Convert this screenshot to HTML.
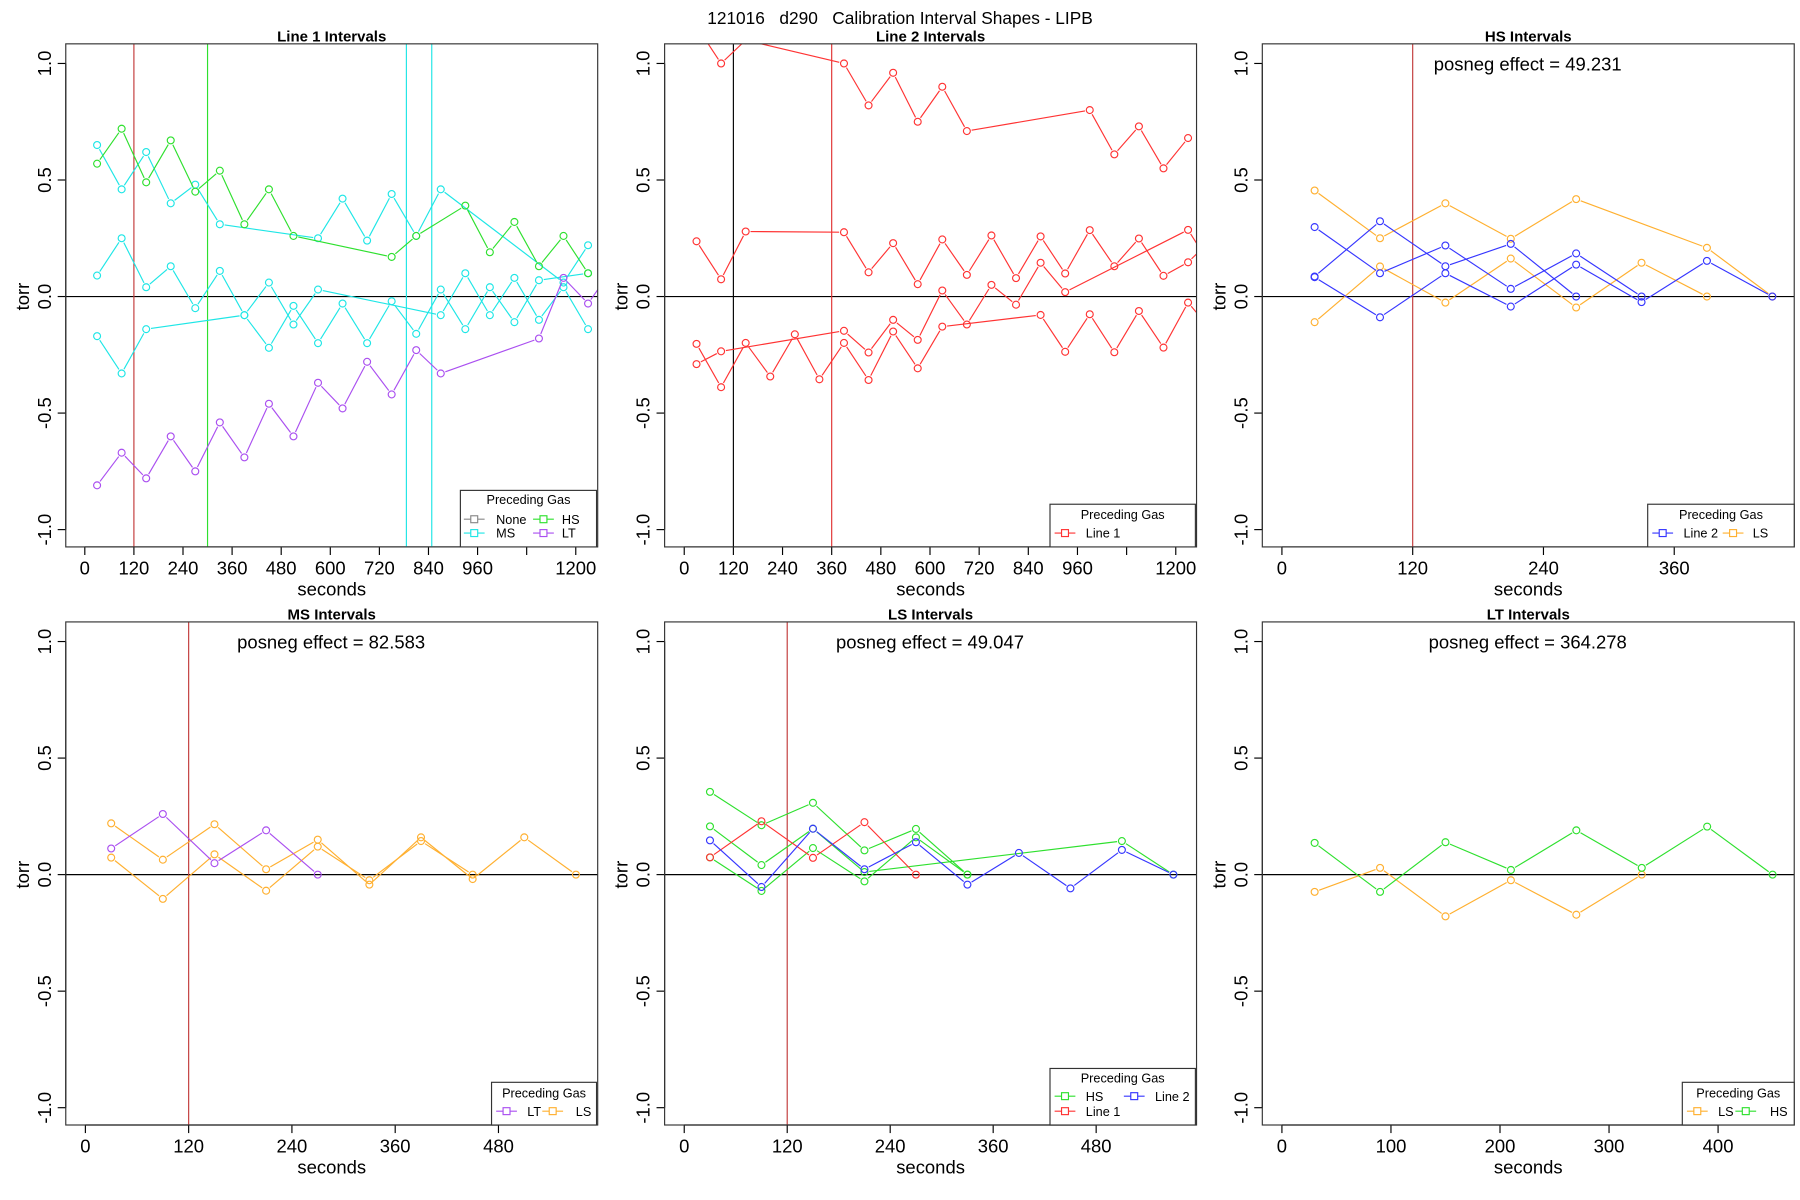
<!DOCTYPE html>
<html><head><meta charset="utf-8"><title>Calibration Interval Shapes</title>
<style>
html,body{margin:0;padding:0;background:#fff;}
svg{display:block;font-family:"Liberation Sans",Arial,sans-serif;}
</style></head>
<body>
<svg id="chart" xmlns="http://www.w3.org/2000/svg" width="1800" height="1200" viewBox="0 0 1560 1040">
<rect x="0" y="0" width="1560" height="1040" fill="#fff"/>
<text x="780" y="21" font-size="15" text-anchor="middle" fill="#000" xml:space="preserve" style="white-space:pre">121016   d290   Calibration Interval Shapes - LIPB</text>
</svg>
<script>
// ---------- data (times in seconds, values in torr) ----------
// Panel 1: Line 1 Intervals
const p1GreenT = [30,90,150,210,270,330,390,450,510,750,810,930,990,1050,1110,1170,1230];
const p1GreenV = [0.57,0.72,0.49,0.67,0.45,0.54,0.31,0.46,0.26,0.17,0.26,0.39,0.19,0.32,0.13,0.26,0.10];
const p1Cyan1T = [30,90,150,210,270,330,570,630,690,750,810,870,1170,1230];
const p1Cyan1V = [0.65,0.46,0.62,0.40,0.48,0.31,0.25,0.42,0.24,0.44,0.26,0.46,0.06,0.22];
const p1Cyan2T = [30,90,150,210,270,330,390,450,510,570,870,930,990,1050,1110,1170,1230];
const p1Cyan2V = [0.09,0.25,0.04,0.13,-0.05,0.11,-0.08,0.06,-0.12,0.03,-0.08,0.10,-0.08,0.08,-0.10,0.04,-0.14];
const p1Cyan3T = [30,90,150,390,450,510,570,630,690,750,810,870,930,990,1050,1110,1230];
const p1Cyan3V = [-0.17,-0.33,-0.14,-0.08,-0.22,-0.04,-0.20,-0.03,-0.20,-0.02,-0.16,0.03,-0.14,0.04,-0.11,0.07,0.10];
const p1PurpleT = [30,90,150,210,270,330,390,450,510,570,630,690,750,810,870,1110,1170,1230,1290];
const p1PurpleV = [-0.81,-0.67,-0.78,-0.60,-0.75,-0.54,-0.69,-0.46,-0.60,-0.37,-0.48,-0.28,-0.42,-0.23,-0.33,-0.18,0.08,-0.03,0.12];
const p1Vlines = [120,300,786,848];
// Panel 2: Line 2 Intervals
const p2Red1T = [30,90,150,390,450,510,570,630,690,990,1050,1110,1170,1230];
const p2Red1V = [1.16,1.0,1.10,1.0,0.82,0.96,0.75,0.90,0.71,0.80,0.61,0.73,0.55,0.68];
const p2Red2T = [30,90,150,390,450,510,570,630,690,750,810,870,930,990,1050,1110,1170,1230,1290];
const p2Red2V = [0.237,0.074,0.279,0.276,0.104,0.229,0.053,0.245,0.093,0.262,0.079,0.258,0.099,0.285,0.130,0.249,0.089,0.147,0.25];
const p2Red3T = [30,90,390,450,510,570,630,690,750,810,870,930,1230,1290];
const p2Red3V = [-0.29,-0.235,-0.147,-0.24,-0.10,-0.186,0.026,-0.12,0.05,-0.035,0.145,0.019,0.286,0.12];
const p2Red4T = [30,90,150,210,270,330,390,450,510,570,630,870,930,990,1050,1110,1170,1230,1290];
const p2Red4V = [-0.203,-0.389,-0.199,-0.343,-0.162,-0.355,-0.199,-0.358,-0.150,-0.308,-0.129,-0.079,-0.237,-0.076,-0.239,-0.062,-0.219,-0.026,-0.15];
const p2Vlines = [120,360];
// Panel 3: HS Intervals
const p3Blue1T = [30,90,150,210,270,330];
const p3Blue1V = [0.298,0.10,0.219,0.033,0.185,0.0];
const p3Blue2T = [30,90,150,210,270];
const p3Blue2V = [0.086,0.323,0.13,0.226,0.0];
const p3Blue3T = [30,90,150,210,270,330,390,450];
const p3Blue3V = [0.083,-0.089,0.10,-0.043,0.137,-0.024,0.153,0.0];
const p3Orange1T = [30,90,150,210,270,390,450];
const p3Orange1V = [0.455,0.25,0.40,0.248,0.418,0.209,0.0];
const p3Orange2T = [30,90,150,210,270,330,390];
const p3Orange2V = [-0.11,0.129,-0.026,0.163,-0.047,0.145,0.0];
// Panel 4: MS Intervals
const p4PurpleT = [30,90,150,210,270];
const p4PurpleV = [0.112,0.26,0.049,0.19,0.0];
const p4Orange1T = [30,90,150,210,270,330,390,450,510,570];
const p4Orange1V = [0.22,0.064,0.216,0.023,0.15,-0.043,0.16,-0.019,0.16,0.0];
const p4Orange2T = [30,90,150,210,270,330,390,450];
const p4Orange2V = [0.073,-0.104,0.087,-0.069,0.12,-0.024,0.144,0.0];
// Panel 5: LS Intervals
const p5Green1T = [30,90,150,210,270,330];
const p5Green1V = [0.355,0.212,0.308,0.104,0.196,0.0];
const p5Green2T = [30,90,150,210,510,570];
const p5Green2V = [0.207,0.041,0.197,0.011,0.144,0.0];
const p5Green3T = [30,90,150,210,270,330];
const p5Green3V = [0.074,-0.07,0.114,-0.029,0.16,0.0];
const p5RedT = [30,90,150,210,270];
const p5RedV = [0.074,0.229,0.072,0.225,0.0];
const p5BlueT = [30,90,150,210,270,330,390,450,510,570];
const p5BlueV = [0.147,-0.053,0.197,0.023,0.139,-0.043,0.093,-0.059,0.106,0.0];
// Panel 6: LT Intervals
const p6GreenT = [30,90,150,210,270,330,390,450];
const p6GreenV = [0.136,-0.074,0.139,0.02,0.19,0.029,0.206,0.0];
const p6OrangeT = [30,90,150,210,270,330];
const p6OrangeV = [-0.074,0.029,-0.179,-0.024,-0.172,0.0];
// ticks
const ticksLong = [0,120,240,360,480,600,720,840,960,1080,1200];
const ticksLongLabels = ["0","120","240","360","480","600","720","840","960","","1200"];
const ticks120 = [0,120,240,360];
const ticks120Labels = ["0","120","240","360"];
const ticks480 = [0,120,240,360,480];
const ticks480Labels = ["0","120","240","360","480"];
const ticks100 = [0,100,200,300,400];
const ticks100Labels = ["0","100","200","300","400"];
const yTicks = [1.0,0.5,0.0,-0.5,-1.0];
const yTickLabels = ["1.0","0.5","0.0","-0.5","-1.0"];

// ---------- colours ----------
const C = {cyan:"#1ee6e6",green:"#2ee02e",purple:"#aa4ff0",red:"#ff3333",orange:"#ffb030",blue:"#3636ff",gray:"#888888"};

const svg = document.getElementById('chart');
const NS = "http://www.w3.org/2000/svg";
function mk(tag, attrs, parent){
  const e = document.createElementNS(NS, tag);
  for (const k in attrs) e.setAttribute(k, attrs[k]);
  (parent||svg).appendChild(e);
  return e;
}

const panels = [
  {id:"p1",title:"Line 1 Intervals",bx:57,by:38,x0:73.5,xs:(499-73.5)/1200,ticks:ticksLong,labels:ticksLongLabels},
  {id:"p2",title:"Line 2 Intervals",bx:576,by:38,x0:593,xs:(1019-593)/1200,ticks:ticksLong,labels:ticksLongLabels},
  {id:"p3",title:"HS Intervals",bx:1094,by:38,x0:1111,xs:(1451-1111)/360,ticks:ticks120,labels:ticks120Labels},
  {id:"p4",title:"MS Intervals",bx:57,by:539,x0:74,xs:(432-74)/480,ticks:ticks480,labels:ticks480Labels},
  {id:"p5",title:"LS Intervals",bx:576,by:539,x0:593,xs:(950-593)/480,ticks:ticks480,labels:ticks480Labels},
  {id:"p6",title:"LT Intervals",bx:1094,by:539,x0:1111,xs:(1489-1111)/400,ticks:ticks100,labels:ticks100Labels}
];
const BW = 461, BH = 436;
function xS(p,t){ return p.x0 + t*p.xs; }
function yS(p,v){ return (p.by + 219) - v*202; }

const defs = mk('defs',{});
panels.forEach(p=>{
  const cp = mk('clipPath',{id:'clip-'+p.id},defs);
  mk('rect',{x:p.bx,y:p.by,width:BW,height:BH},cp);
});

function drawPanel(p){
  const g = mk('g',{});
  
  
  const t = mk('text',{x:p.bx+BW/2,y:p.by-2,'font-size':13,'font-weight':'bold','text-anchor':'middle'},g);
  
  
  t.textContent = p.title;
  const xa = mk('g',{},g);
  
  
  const by2 = p.by+BH;
  mk('line',{x1:xS(p,p.ticks[0]),x2:xS(p,p.ticks[p.ticks.length-1]),y1:by2,y2:by2,stroke:'#000','stroke-width':1},xa);
  p.ticks.forEach((tv,i)=>{
    const x = xS(p,tv);
    mk('line',{x1:x,x2:x,y1:by2,y2:by2+7,stroke:'#000','stroke-width':1},xa);
    const lt = mk('text',{x:x,y:by2+24,'font-size':16,'text-anchor':'middle'},xa);
    
    
    lt.textContent = p.labels[i];
  });
  const xl = mk('text',{x:p.bx+BW/2,y:by2+42,'font-size':16,'text-anchor':'middle'},g);
  
  
  xl.textContent = 'seconds';
  const ya = mk('g',{},g);
  
  
  mk('line',{x1:p.bx,x2:p.bx,y1:yS(p,1),y2:yS(p,-1),stroke:'#000','stroke-width':1},ya);
  yTicks.forEach((v,i)=>{
    const y = yS(p,v);
    mk('line',{x1:p.bx-7,x2:p.bx,y1:y,y2:y,stroke:'#000','stroke-width':1},ya);
    const lx = p.bx-13;
    const lt = mk('text',{x:lx,y:y,'font-size':16,'text-anchor':'middle',transform:`rotate(-90 ${lx} ${y})`},ya);
    
    
    lt.textContent = yTickLabels[i];
  });
  const yx = p.bx-32, yy = p.by+219;
  const yl = mk('text',{x:yx,y:yy,'font-size':16,'text-anchor':'middle',transform:`rotate(-90 ${yx} ${yy})`},g);
  
  
  yl.textContent = 'torr';
  const z = mk('line',{x1:p.bx,x2:p.bx+BW,y1:yS(p,0),y2:yS(p,0),stroke:'#000','stroke-width':1},g);
  
  
  return g;
}

function vline(p,t,color,name){
  const l = mk('line',{x1:xS(p,t),x2:xS(p,t),y1:p.by,y2:p.by+BH,stroke:color,'stroke-width':1,'clip-path':`url(#clip-${p.id})`});
  
  
}

function series(p,T,V,color,name){
  const g = mk('g',{'clip-path':`url(#clip-${p.id})`});
  
  
  const r = 3, gap = 4.2;
  for (let i=0;i<T.length-1;i++){
    const x1=xS(p,T[i]),y1=yS(p,V[i]),x2=xS(p,T[i+1]),y2=yS(p,V[i+1]);
    const dx=x2-x1, dy=y2-y1, L=Math.hypot(dx,dy);
    if (L<=2*gap) continue;
    const ux=dx/L, uy=dy/L;
    mk('line',{x1:x1+ux*gap,y1:y1+uy*gap,x2:x2-ux*gap,y2:y2-uy*gap,stroke:color,'stroke-width':1},g);
  }
  for (let i=0;i<T.length;i++){
    const c = mk('circle',{cx:xS(p,T[i]),cy:yS(p,V[i]),r:r,fill:'none',stroke:color,'stroke-width':1},g);
    
    
  }
}

function box(p){
  const b = mk('rect',{x:p.bx,y:p.by,width:BW,height:BH,fill:'none',stroke:'#333','stroke-width':1});
  
  
}

function legend(x,y,w,h,titleY,entries,name){
  const g = mk('g',{});
  
  
  mk('rect',{x:x,y:y,width:w,height:h,fill:'#fff',stroke:'#333','stroke-width':1},g);
  const t = mk('text',{x:x+w/2,y:titleY,'font-size':11,'text-anchor':'middle'},g);
  
  
  t.textContent = 'Preceding Gas';
  entries.forEach(e=>{
    const eg = mk('g',{},g);
    
    
    mk('line',{x1:e.x,x2:e.x+18,y1:e.y,y2:e.y,stroke:e.c,'stroke-width':1},eg);
    mk('rect',{x:e.x+6,y:e.y-3,width:6,height:6,fill:'#fff',stroke:e.c,'stroke-width':1},eg);
    const tt = mk('text',{x:e.tx,y:e.y+4,'font-size':11},eg);
    tt.textContent = e.label;
  });
}

function annot(x,y,txt){
  const a = mk('text',{x:x,y:y,'font-size':16,'text-anchor':'middle'});
  
  
  a.textContent = txt;
}

panels.forEach(drawPanel);
const [P1,P2,P3,P4,P5,P6] = panels;

vline(P1,p1Vlines[0],'#c23a3a','vline-120');
vline(P1,p1Vlines[1],C.green,'vline-hs');
vline(P1,p1Vlines[2],C.cyan,'vline-ms-1');
vline(P1,p1Vlines[3],C.cyan,'vline-ms-2');
series(P1,p1Cyan1T,p1Cyan1V,C.cyan,'series-ms-1');
series(P1,p1Cyan2T,p1Cyan2V,C.cyan,'series-ms-2');
series(P1,p1Cyan3T,p1Cyan3V,C.cyan,'series-ms-3');
series(P1,p1GreenT,p1GreenV,C.green,'series-hs');
series(P1,p1PurpleT,p1PurpleV,C.purple,'series-lt');
vline(P2,p2Vlines[0],'#000','vline-120');
vline(P2,p2Vlines[1],'#e03030','vline-360');
series(P2,p2Red1T,p2Red1V,C.red,'series-line1-a');
series(P2,p2Red2T,p2Red2V,C.red,'series-line1-b');
series(P2,p2Red3T,p2Red3V,C.red,'series-line1-c');
series(P2,p2Red4T,p2Red4V,C.red,'series-line1-d');
vline(P3,120,'#c23a3a','vline-120');
series(P3,p3Orange1T,p3Orange1V,C.orange,'series-ls-1');
series(P3,p3Orange2T,p3Orange2V,C.orange,'series-ls-2');
series(P3,p3Blue1T,p3Blue1V,C.blue,'series-line2-1');
series(P3,p3Blue2T,p3Blue2V,C.blue,'series-line2-2');
series(P3,p3Blue3T,p3Blue3V,C.blue,'series-line2-3');
vline(P4,120,'#c23a3a','vline-120');
series(P4,p4Orange1T,p4Orange1V,C.orange,'series-ls-1');
series(P4,p4Orange2T,p4Orange2V,C.orange,'series-ls-2');
series(P4,p4PurpleT,p4PurpleV,C.purple,'series-lt');
vline(P5,120,'#c23a3a','vline-120');
series(P5,p5Green1T,p5Green1V,C.green,'series-hs-1');
series(P5,p5Green2T,p5Green2V,C.green,'series-hs-2');
series(P5,p5Green3T,p5Green3V,C.green,'series-hs-3');
series(P5,p5RedT,p5RedV,C.red,'series-line1');
series(P5,p5BlueT,p5BlueV,C.blue,'series-line2');
series(P6,p6OrangeT,p6OrangeV,C.orange,'series-ls');
series(P6,p6GreenT,p6GreenV,C.green,'series-hs');

panels.forEach(box);

legend(399,425,118,49,437,[
  {x:402,y:450,tx:430,c:C.gray,label:'None'},
  {x:462,y:450,tx:487,c:C.green,label:'HS'},
  {x:402,y:462,tx:430,c:C.cyan,label:'MS'},
  {x:462,y:462,tx:487,c:C.purple,label:'LT'}],'legend-line1');
legend(910,437,126,37,450,[
  {x:914,y:462,tx:941,c:C.red,label:'Line 1'}],'legend-line2');
legend(1428,437,127,37,450,[
  {x:1432,y:462,tx:1459,c:C.blue,label:'Line 2'},
  {x:1493,y:462,tx:1519,c:C.orange,label:'LS'}],'legend-hs');
legend(426,938,91,37,951,[
  {x:430,y:963,tx:457,c:C.purple,label:'LT'},
  {x:470,y:963,tx:499,c:C.orange,label:'LS'}],'legend-ms');
legend(910,926,126,49,938,[
  {x:914,y:950,tx:941,c:C.green,label:'HS'},
  {x:974,y:950,tx:1001,c:C.blue,label:'Line 2'},
  {x:914,y:963,tx:941,c:C.red,label:'Line 1'}],'legend-ls');
legend(1458,938,97,37,951,[
  {x:1462,y:963,tx:1489,c:C.orange,label:'LS'},
  {x:1504,y:963,tx:1534,c:C.green,label:'HS'}],'legend-lt');

annot(1324,61,'posneg effect = 49.231');
annot(287,562,'posneg effect = 82.583');
annot(806,562,'posneg effect = 49.047');
annot(1324,562,'posneg effect = 364.278');
</script>
</body></html>
